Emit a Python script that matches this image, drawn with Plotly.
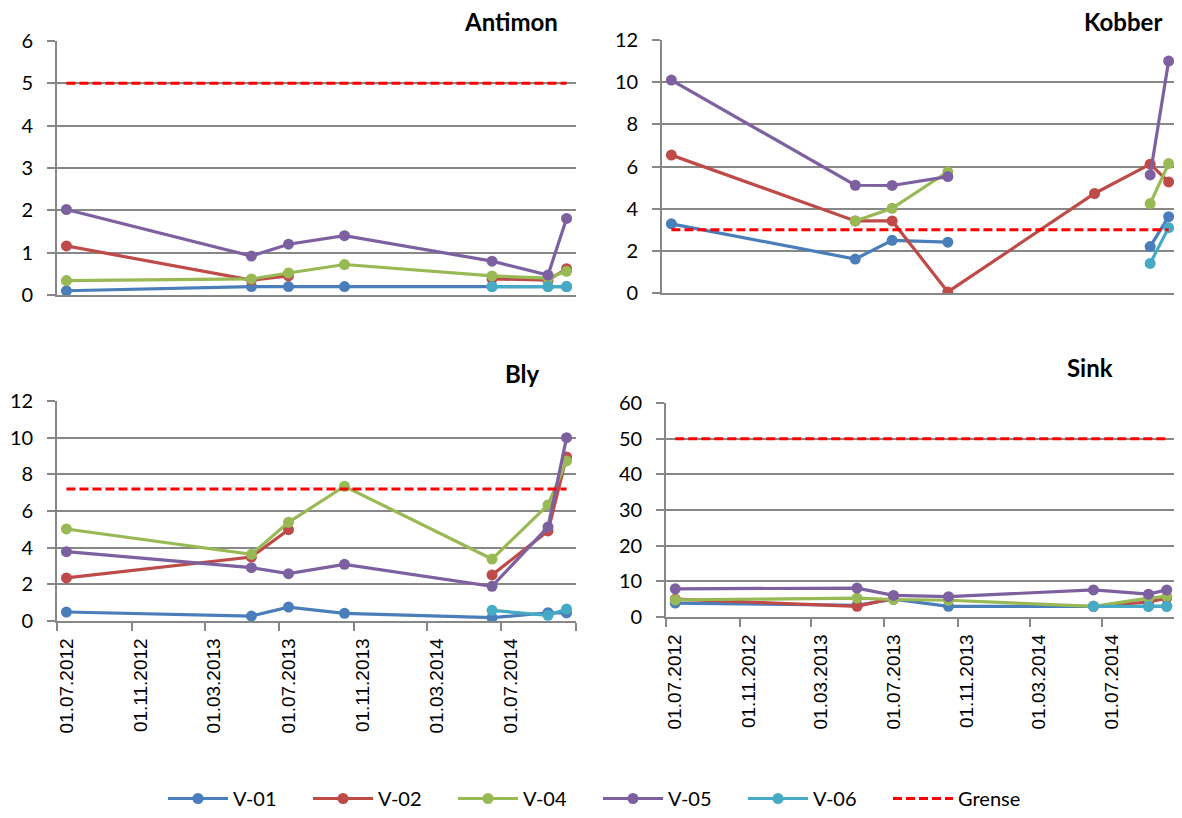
import pandas as pd
import plotly.graph_objects as go

# ---------------- data ----------------
sample_months = ["2012-07", "2013-05", "2013-07", "2013-10", "2014-06", "2014-09", "2014-10"]
series_names = ["V-01", "V-02", "V-04", "V-05", "V-06"]
series_colors = ["#4A7EBB", "#BE4B48", "#98B954", "#7D60A0", "#46AAC5"]

antimon_v01 = [0.1, 0.2, 0.2, 0.2, 0.2, 0.2, 0.2]
antimon_v02 = [1.16, 0.35, 0.45, None, 0.38, 0.35, 0.62]
antimon_v04 = [0.34, 0.38, 0.52, 0.72, 0.45, 0.40, 0.56]
antimon_v05 = [2.02, 0.92, 1.2, 1.4, 0.8, 0.47, 1.81]
antimon_v06 = [None, None, None, None, 0.2, 0.2, 0.2]
antimon_grense = 5

kobber_v01 = [3.28, 1.61, 2.5, 2.41, None, 2.2, 3.62]
kobber_v02 = [6.54, 3.42, 3.42, 0.05, 4.72, 6.11, 5.27]
kobber_v04 = [None, 3.42, 4.02, 5.75, None, 4.24, 6.14]
kobber_v05 = [10.1, 5.11, 5.1, 5.52, None, 5.6, 11.0]
kobber_v06 = [None, None, None, None, None, 1.4, 3.1]
kobber_grense = 3

bly_v01 = [0.49, 0.27, 0.76, 0.42, 0.18, 0.45, 0.44]
bly_v02 = [2.35, 3.49, 4.98, None, 2.51, 4.91, 8.95]
bly_v04 = [5.02, 3.64, 5.38, 7.35, 3.38, 6.33, 8.73]
bly_v05 = [3.78, 2.91, 2.58, 3.09, 1.89, 5.13, 10.0]
bly_v06 = [None, None, None, None, 0.58, 0.31, 0.65]
bly_grense = 7.2

sink_v01 = [3.9, 3.3, 5.0, 3.0, 3.0, 3.0, 3.0]
sink_v02 = [5.0, 3.0, 5.3, None, 3.0, 4.2, 5.3]
sink_v04 = [4.8, 5.3, 4.9, 4.7, 3.0, 5.3, 5.8]
sink_v05 = [7.9, 8.1, 6.06, 5.7, 7.6, 6.4, 7.6]
sink_v06 = [None, None, None, None, 3.0, 3.0, 3.0]
sink_grense = 50

tick_months = ["2012-07", "2012-11", "2013-03", "2013-07", "2013-11", "2014-03", "2014-07"]
tick_labels = ["01.07.2012", "01.11.2012", "01.03.2013", "01.07.2013", "01.11.2013", "01.03.2014", "01.07.2014"]
boundary_months = ["2012-07", "2012-11", "2013-03", "2013-07", "2013-11", "2014-03", "2014-07", "2014-11"]
axis_start, axis_end = "2012-07-01", "2014-11-01"

panels = [
    dict(title="Antimon", data=[antimon_v01, antimon_v02, antimon_v04, antimon_v05, antimon_v06],
         grense=antimon_grense, ymax=6, dtick=1),
    dict(title="Kobber", data=[kobber_v01, kobber_v02, kobber_v04, kobber_v05, kobber_v06],
         grense=kobber_grense, ymax=12, dtick=2),
    dict(title="Bly", data=[bly_v01, bly_v02, bly_v04, bly_v05, bly_v06],
         grense=bly_grense, ymax=12, dtick=2),
    dict(title="Sink", data=[sink_v01, sink_v02, sink_v04, sink_v05, sink_v06],
         grense=sink_grense, ymax=60, dtick=10),
]

# ---------------- layout helpers ----------------
OFF = 8                      # page body margin
W, H = 1182 - OFF, 818 - OFF  # figure size


def mid_month(m):
    p = pd.Period(m, "M")
    s = p.start_time
    e = (p + 1).start_time
    return s + (e - s) / 2


x_mid = [mid_month(m) for m in sample_months]
tick_pos = [mid_month(m) for m in tick_months]
boundary_pos = [pd.Period(m, "M").start_time for m in boundary_months]

# page-pixel boxes: (left, right, top, bottom)
boxes = [(57, 576, 41, 295), (662, 1178, 40, 293), (57, 576, 401, 621), (666, 1176, 403, 617)]
title_pos = [(511, 22), (1123, 22), (522, 373), (1090, 367)]


def fx(px):
    return (px - OFF) / W


def fy(py):
    return 1 - (py - OFF) / H


GRID = "#878787"
fig = go.Figure()

for i, p in enumerate(panels):
    k = "" if i == 0 else str(i + 1)
    for j, name in enumerate(series_names):
        fig.add_trace(go.Scatter(
            x=x_mid, y=p["data"][j], name=name, legendgroup=name, showlegend=(i == 0),
            mode="lines+markers", connectgaps=False,
            line=dict(color=series_colors[j], width=3.2),
            marker=dict(color=series_colors[j], size=11),
            xaxis="x" + k, yaxis="y" + k,
        ))
    fig.add_trace(go.Scatter(
        x=[x_mid[0], x_mid[-1]], y=[p["grense"], p["grense"]], name="Grense", legendgroup="Grense",
        showlegend=(i == 0), mode="lines",
        line=dict(color="#FF0000", width=3, dash="9px,4px"),
        xaxis="x" + k, yaxis="y" + k,
    ))

    l, r, t, b = boxes[i]
    bottom = i >= 2
    xa = dict(
        domain=[fx(l), fx(r)], anchor="y" + k, type="date", automargin=False,
        range=[axis_start, axis_end], showgrid=False, zeroline=False,
        showline=True, linecolor=GRID, linewidth=1.6,
    )
    if bottom:
        xa.update(
            tickmode="array", tickvals=tick_pos, ticktext=tick_labels, ticks="",
            tickangle=-90, ticklabelstandoff=8,
            tickfont=dict(family="Liberation Sans", size=19, color="#000000"),
            minor=dict(tickmode="array", tickvals=boundary_pos, ticks="outside",
                       ticklen=8, tickwidth=1.6, tickcolor=GRID, showgrid=False),
        )
    else:
        xa.update(showticklabels=False, ticks="")
    ya = dict(
        domain=[fy(b), fy(t)], anchor="x" + k, range=[0, p["ymax"]], dtick=p["dtick"],
        automargin=False,
        showgrid=True, gridcolor=GRID, gridwidth=1.6, zeroline=False,
        showline=True, linecolor=GRID, linewidth=1.6,
        ticks="outside", ticklen=8, tickwidth=1.6, tickcolor=GRID, ticklabelstandoff=10,
        tickfont=dict(family="Lato", size=20, color="#000000"),
    )
    fig.update_layout(**{"xaxis" + k: xa, "yaxis" + k: ya})
    tx, ty = title_pos[i]
    fig.add_annotation(
        text="<b>" + p["title"] + "</b>", xref="paper", yref="paper",
        x=fx(tx), y=fy(ty), xanchor="center", yanchor="middle", showarrow=False,
        font=dict(family="Lato", size=24, color="#000000"),
    )

fig.update_layout(
    width=W, height=H, margin=dict(l=0, r=0, t=0, b=0, autoexpand=False),
    paper_bgcolor="white", plot_bgcolor="white",
    legend=dict(orientation="h", x=fx(598), y=0, xanchor="center", yanchor="bottom",
                font=dict(family="Lato", size=20, color="#000000"),
                itemwidth=60, entrywidth=70, traceorder="normal"),
)

fig.write_html("out.html")
